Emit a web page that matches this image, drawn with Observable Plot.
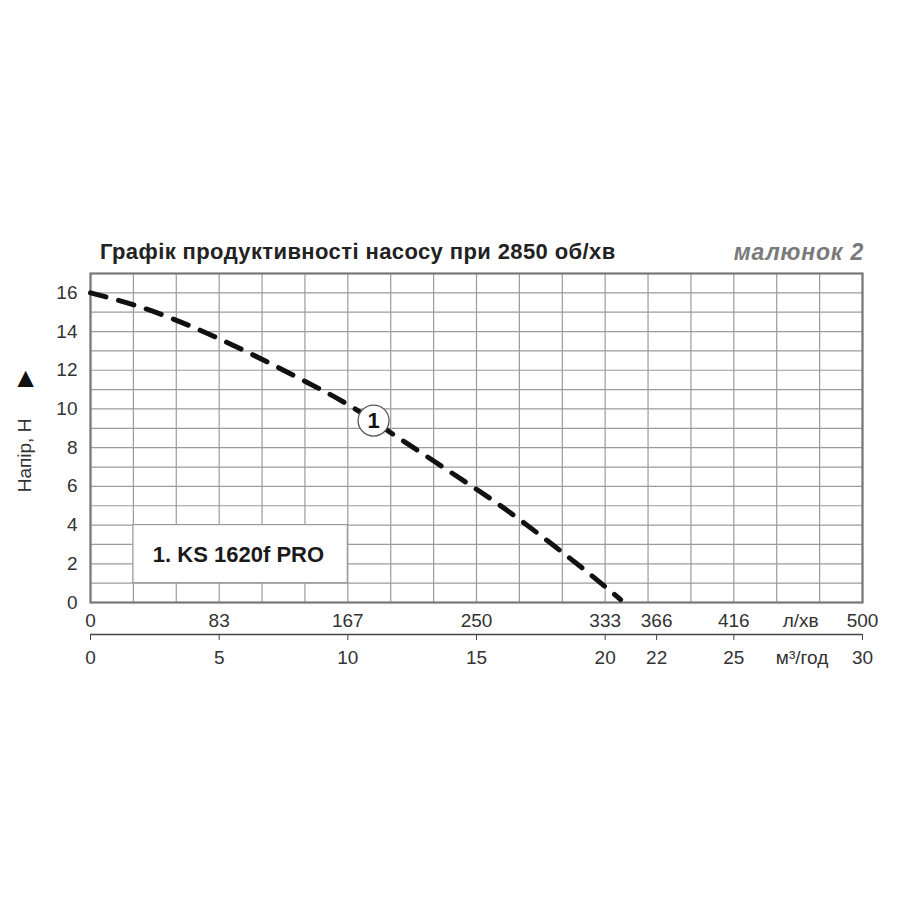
<!DOCTYPE html>
<html><head><meta charset="utf-8">
<script src="https://cdn.jsdelivr.net/npm/d3@7"></script>
<script src="https://cdn.jsdelivr.net/npm/@observablehq/plot@0.6"></script>
<style>
body{margin:0;background:#fff;font-family:"Liberation Sans",Arial,sans-serif;}
#wrap{position:relative;width:900px;height:900px;overflow:hidden;}
#chart{position:absolute;left:0;top:0;}
#title{position:absolute;left:100px;top:241px;font-size:22px;letter-spacing:0.4px;font-weight:bold;color:#222;line-height:1;white-space:nowrap;}
#fig{position:absolute;right:36px;top:241px;font-size:23px;letter-spacing:0.8px;font-weight:bold;font-style:italic;color:#7a7a7a;line-height:1;white-space:nowrap;}
</style></head><body>
<div id="wrap"><div id="chart"></div>
<div id="title">Графік продуктивності насосу при 2850 об/хв</div>
<div id="fig">малюнок 2</div></div>
<script>
// Pump curve: flow (m³/h) vs head (m)
const flowM3h = [0, 2, 4, 6, 8, 10, 12, 14, 16, 18, 20, 20.6];
const headM   = [16.0, 15.24, 14.22, 13.0, 11.66, 10.23, 8.48, 6.73, 4.94, 2.94, 0.82, 0.15];
const yTicks = [0, 2, 4, 6, 8, 10, 12, 14, 16];
const xTicks = [0, 5, 10, 15, 20, 22, 25, 30];
const lpmLabels = ["0", "83", "167", "250", "333", "366", "416", "500"];
const m3hLabels = ["0", "5", "10", "15", "20", "22", "25", "30"];
const lpmUnit = "л/хв";
const m3hUnit = "м³/год";
const seriesLabel = "1. KS 1620f PRO";
const curveTag = "1";
const yLabel = "Напір, Н";

const curve = flowM3h.map((q, i) => ({q, h: headM[i]}));
const gridX = d3.range(19).map(i => i * 30 / 18);
const gridY = d3.range(18);
const lpmMap = new Map(xTicks.map((t, i) => [t, lpmLabels[i]]));
const m3hMap = new Map(xTicks.map((t, i) => [t, m3hLabels[i]]));

const gridColor = "#9b9b9b";

const chart = Plot.plot({
  width: 900, height: 900,
  marginTop: 273, marginBottom: 298, marginLeft: 90, marginRight: 38,
  style: {fontSize: "19px", fontFamily: "'Liberation Sans', Arial, sans-serif", color: "#333", background: "transparent"},
  x: {domain: [0, 30], axis: null},
  y: {domain: [0, 17], axis: null},
  marks: [
    Plot.ruleY(gridY, {stroke: gridColor, strokeWidth: 1.2}),
    Plot.ruleX(gridX, {stroke: gridColor, strokeWidth: 1.2}),
    Plot.rect([{x1: 5/3, x2: 10, y1: 1, y2: 4}], {x1: "x1", x2: "x2", y1: "y1", y2: "y2", fill: "white", stroke: "#999", strokeWidth: 1.2}),
    Plot.text([{x: 5.75, y: 2.45, t: seriesLabel}], {x: "x", y: "y", text: "t", fontWeight: "bold", fontSize: 22, fill: "#1a1a1a"}),
    Plot.frame({stroke: "#777", strokeWidth: 2.2}),
    Plot.line(curve, {x: "q", y: "h", curve: "monotone-x", stroke: "#111", strokeWidth: 5, strokeDasharray: "16,13"}),
    Plot.dot([{q: 11.0, h: 9.4}], {x: "q", y: "h", r: 15.5, fill: "white", stroke: "#555", strokeWidth: 1.3}),
    Plot.text([{q: 11.0, h: 9.4, t: curveTag}], {x: "q", y: "h", text: "t", fontWeight: "bold", fontSize: 22, fill: "#111"}),
    Plot.axisY(yTicks, {anchor: "left", tickSize: 0, tickPadding: 13, label: null}),
    Plot.axisX(xTicks, {anchor: "bottom", tickSize: 0, tickPadding: 11, tickFormat: d => lpmMap.get(d), label: null}),
    Plot.text([{x: 27.6, y: 0, t: lpmUnit}], {x: "x", y: "y", text: "t", lineAnchor: "top", dy: 11}),
    Plot.ruleY([0], {dy: 32, stroke: "#444", strokeWidth: 1.5}),
    Plot.axisX(xTicks, {anchor: "bottom", dy: 32, tickSize: 6, tickPadding: 10, stroke: "#444", tickFormat: d => m3hMap.get(d), label: null}),
    Plot.text([{x: 27.65, y: 0, t: m3hUnit}], {x: "x", y: "y", text: "t", lineAnchor: "top", dy: 48}),
    Plot.text([{x: 0, y: 7.6, t: yLabel}], {x: "x", y: "y", text: "t", rotate: -90, dx: -66}),
    Plot.text([{x: 0, y: 11.6, t: "▲"}], {x: "x", y: "y", text: "t", dx: -65, fontSize: 28, fill: "#111"})
  ]
});
document.getElementById("chart").appendChild(chart);
</script>
</body></html>
